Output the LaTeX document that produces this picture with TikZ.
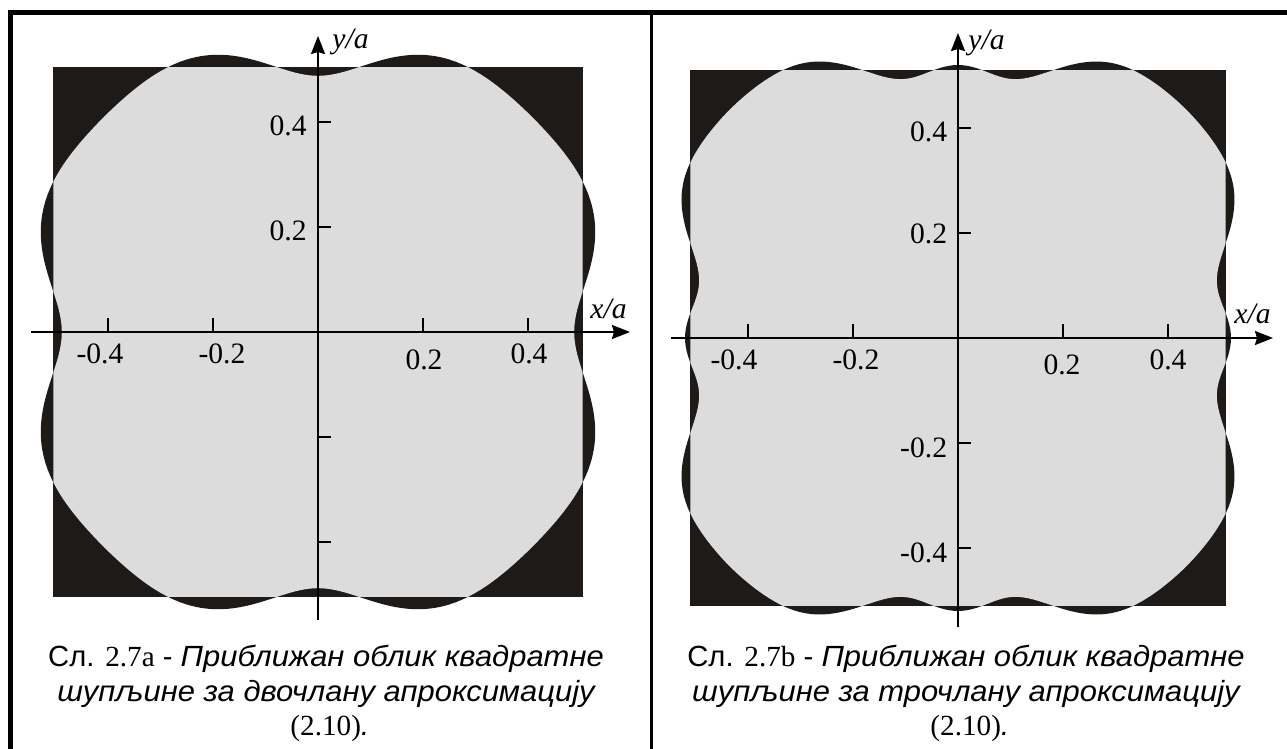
\documentclass[tikz,border=0pt]{standalone}
\usepackage{fontspec}
\setmainfont{Liberation Serif}
\newfontfamily\capfont{Liberation Sans}
\newfontfamily\capitfont{Liberation Sans}[FakeStretch=1.06]
\usetikzlibrary{arrows.meta}
\definecolor{ink}{HTML}{1E1A17}
\definecolor{cavity}{HTML}{DCDCDC}
\begin{document}
\begin{tikzpicture}[x=0.5pt,y=0.5pt,
  axis/.style={line width=1pt,-{Stealth[length=9pt,width=7pt,inset=1pt]}},
  tickline/.style={line width=1pt},
  ticklbl/.style={font=\fontsize{14.8}{16}\selectfont,inner sep=0pt},
  axlbl/.style={font=\fontsize{14.8}{16}\selectfont\itshape,inner sep=0pt},
  caption/.style={font=\capfont\fontsize{14.6}{17}\selectfont,inner sep=0pt,anchor=base}]
\useasboundingbox (0,0) rectangle (1287,-749);
\clip (0,0) rectangle (1287,-749);
\fill[white] (0,0) rectangle (1287,-749);
% frame and divider
\draw[line width=2.5pt] (10.5,-12.5) rectangle (1300,-770);
\draw[line width=1.5pt] (651,-12.5) -- (651,-770);

% ---------------- left panel ----------------
\begin{scope}[shift={(318,-332)}]
 \begin{scope}[scale=525]
  \fill[ink] (-0.504,-0.504) rectangle (0.504,0.504);
  \fill[ink] plot[domain=0:360,samples=361,variable=\t]
    ({(0.55129-0.04304*cos(4*\t)-0.01829*cos(8*\t)-0.00196*cos(12*\t))*cos(\t)},{(0.55129-0.04304*cos(4*\t)-0.01829*cos(8*\t)-0.00196*cos(12*\t))*sin(\t)}) -- cycle;
  \begin{scope}
   \clip (-0.504,-0.504) rectangle (0.504,0.504);
   \fill[cavity] plot[domain=0:360,samples=361,variable=\t]
    ({(0.55129-0.04304*cos(4*\t)-0.01829*cos(8*\t)-0.00196*cos(12*\t))*cos(\t)},{(0.55129-0.04304*cos(4*\t)-0.01829*cos(8*\t)-0.00196*cos(12*\t))*sin(\t)}) -- cycle;
  \end{scope}
 \end{scope}
 \coordinate (a-xs) at (-287,0); \coordinate (a-xe) at (312,0);
 \coordinate (a-ys) at (0,-288); \coordinate (a-ye) at (0,296);
 \draw[axis] (a-xs) -- (a-xe);
 \draw[axis] (a-ys) -- (a-ye);
 \foreach \v in {-210,-105,105,210} {
   \draw[tickline] (\v,0) -- (\v,14);
   \draw[tickline] (0,\v) -- (13,\v);
 }
 \node[ticklbl,anchor=base east] (a-y04) at (-11,196) {0.4};
 \node[ticklbl,anchor=base east] (a-y02) at (-11,91) {0.2};
 \node[ticklbl,anchor=base] (a-xm04) at (-218,-32) {-0.4};
 \node[ticklbl,anchor=base] (a-xm02) at (-96,-32) {-0.2};
 \node[ticklbl,anchor=base] (a-x02) at (106,-37) {0.2};
 \node[ticklbl,anchor=base] (a-x04) at (211,-32) {0.4};
 \node[axlbl,anchor=base west] (a-ylab) at (14,283) {y/a};
 \node[axlbl,anchor=base west] (a-xlab) at (272,14) {x/a};
\end{scope}

% ---------------- right panel ----------------
\begin{scope}[shift={(958,-338)}]
 \begin{scope}[scale=525]
  \fill[ink] (-0.51,-0.51) rectangle (0.51,0.51);
  \fill[ink] plot[domain=0:360,samples=361,variable=\t]
    ({(0.561092-0.061554*cos(4*\t)+0.002177*cos(8*\t)+0.014054*cos(12*\t)+0.004231*cos(16*\t))*cos(\t)},{(0.561092-0.061554*cos(4*\t)+0.002177*cos(8*\t)+0.014054*cos(12*\t)+0.004231*cos(16*\t))*sin(\t)}) -- cycle;
  \begin{scope}
   \clip (-0.51,-0.51) rectangle (0.51,0.51);
   \fill[cavity] plot[domain=0:360,samples=361,variable=\t]
    ({(0.561092-0.061554*cos(4*\t)+0.002177*cos(8*\t)+0.014054*cos(12*\t)+0.004231*cos(16*\t))*cos(\t)},{(0.561092-0.061554*cos(4*\t)+0.002177*cos(8*\t)+0.014054*cos(12*\t)+0.004231*cos(16*\t))*sin(\t)}) -- cycle;
  \end{scope}
 \end{scope}
 \coordinate (b-xs) at (-287,0); \coordinate (b-xe) at (315,0);
 \coordinate (b-ys) at (0,-289); \coordinate (b-ye) at (0,305);
 \draw[axis] (b-xs) -- (b-xe);
 \draw[axis] (b-ys) -- (b-ye);
 \foreach \v in {-210,-105,105,210} {
   \draw[tickline] (\v,0) -- (\v,14);
   \draw[tickline] (0,\v) -- (13,\v);
 }
 \node[ticklbl,anchor=base east] (b-y04) at (-10.5,196) {0.4};
 \node[ticklbl,anchor=base east] (b-y02) at (-10.5,95) {0.2};
 \node[ticklbl,anchor=base east] (b-ym02) at (-10.5,-119) {-0.2};
 \node[ticklbl,anchor=base east] (b-ym04) at (-10.5,-224) {-0.4};
 \node[ticklbl,anchor=base] (b-xm04) at (-224,-32) {-0.4};
 \node[ticklbl,anchor=base] (b-xm02) at (-102,-32) {-0.2};
 \node[ticklbl,anchor=base] (b-x02) at (104,-36) {0.2};
 \node[ticklbl,anchor=base] (b-x04) at (210,-32) {0.4};
 \node[axlbl,anchor=base west] (b-ylab) at (10,288) {y/a};
 \node[axlbl,anchor=base west] (b-xlab) at (276,15) {x/a};
\end{scope}

% ---------------- captions ----------------
\node[caption] (capA1) at (326,-666) {Сл. {\rmfamily 2.7a} - {\capitfont\itshape Приближан облик квадратне}};
\node[caption] (capA2) at (326,-701) {\capitfont\itshape шупљине за двочлану апроксимацију};
\node[caption] (capA3) at (330,-735) {{\rmfamily (2.10)}\capitfont\itshape .};
\node[caption] (capB1) at (966,-666) {Сл. {\rmfamily 2.7b} - {\capitfont\itshape Приближан облик квадратне}};
\node[caption] (capB2) at (966,-701) {\capitfont\itshape шупљине за трочлану апроксимацију};
\node[caption] (capB3) at (970,-735) {{\rmfamily (2.10)}\capitfont\itshape .};
\end{tikzpicture}
\end{document}
